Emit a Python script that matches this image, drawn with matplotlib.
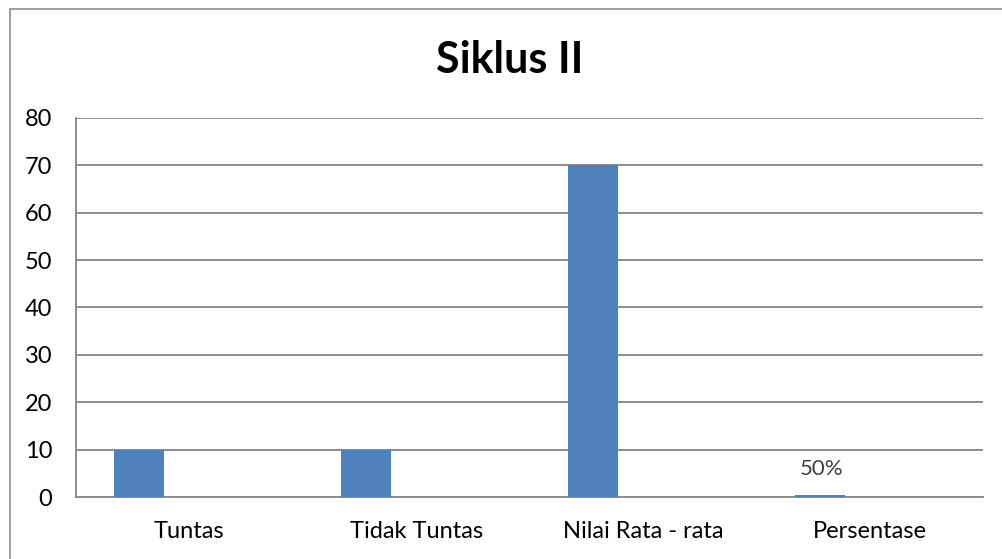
import matplotlib
matplotlib.use("Agg")
import matplotlib.pyplot as plt
from matplotlib.patches import Rectangle
import numpy as np

categories = ["Tuntas", "Tidak Tuntas", "Nilai Rata - rata", "Persentase"]
values = [10, 10, 70, 0.5]
value_labels = {3: "50%"}
y_ticks = [0, 10, 20, 30, 40, 50, 60, 70, 80]

plt.rcParams["font.family"] = ["Lato", "DejaVu Sans"]

fig = plt.figure(figsize=(10.02, 5.59), dpi=100)
ax = fig.add_axes([0.0758, 0.1109, 0.9052, 0.6782])

# outer chart frame
fig.patches.append(Rectangle((10 / 1002, -0.1), 1.2, 1.1 - 9 / 559,
                             transform=fig.transFigure, fill=False,
                             edgecolor="#8c8c8c", linewidth=1.2))

x = np.arange(len(categories))
bar_w = 0.22
ax.bar(x - bar_w, values, width=bar_w, color="#4f81bd", zorder=3)

for i, txt in value_labels.items():
    ax.text(x[i] - bar_w + 0.01, values[i] + 5.5, txt, ha="center", va="center",
            fontsize=16, color="#404040")

ax.set_xlim(-0.5, len(categories) - 0.5)
ax.set_ylim(0, 80)
ax.set_yticks(y_ticks)
ax.set_xticks(x)
ax.set_xticklabels(categories)
ax.yaxis.grid(True, color="#8c8c8c", linewidth=1.4, zorder=0)
ax.set_axisbelow(True)
for s in ["top", "right"]:
    ax.spines[s].set_visible(False)
for s in ["left", "bottom"]:
    ax.spines[s].set_color("#8c8c8c")
    ax.spines[s].set_linewidth(1.4)
ax.tick_params(axis="both", length=0, labelsize=17, colors="#000000")
ax.tick_params(axis="y", pad=17)
ax.tick_params(axis="x", pad=17)

fig.text(0.509, 0.893, "Siklus II", ha="center", va="center",
         fontsize=31, fontweight="bold")

fig.savefig("out.png", dpi=100)
